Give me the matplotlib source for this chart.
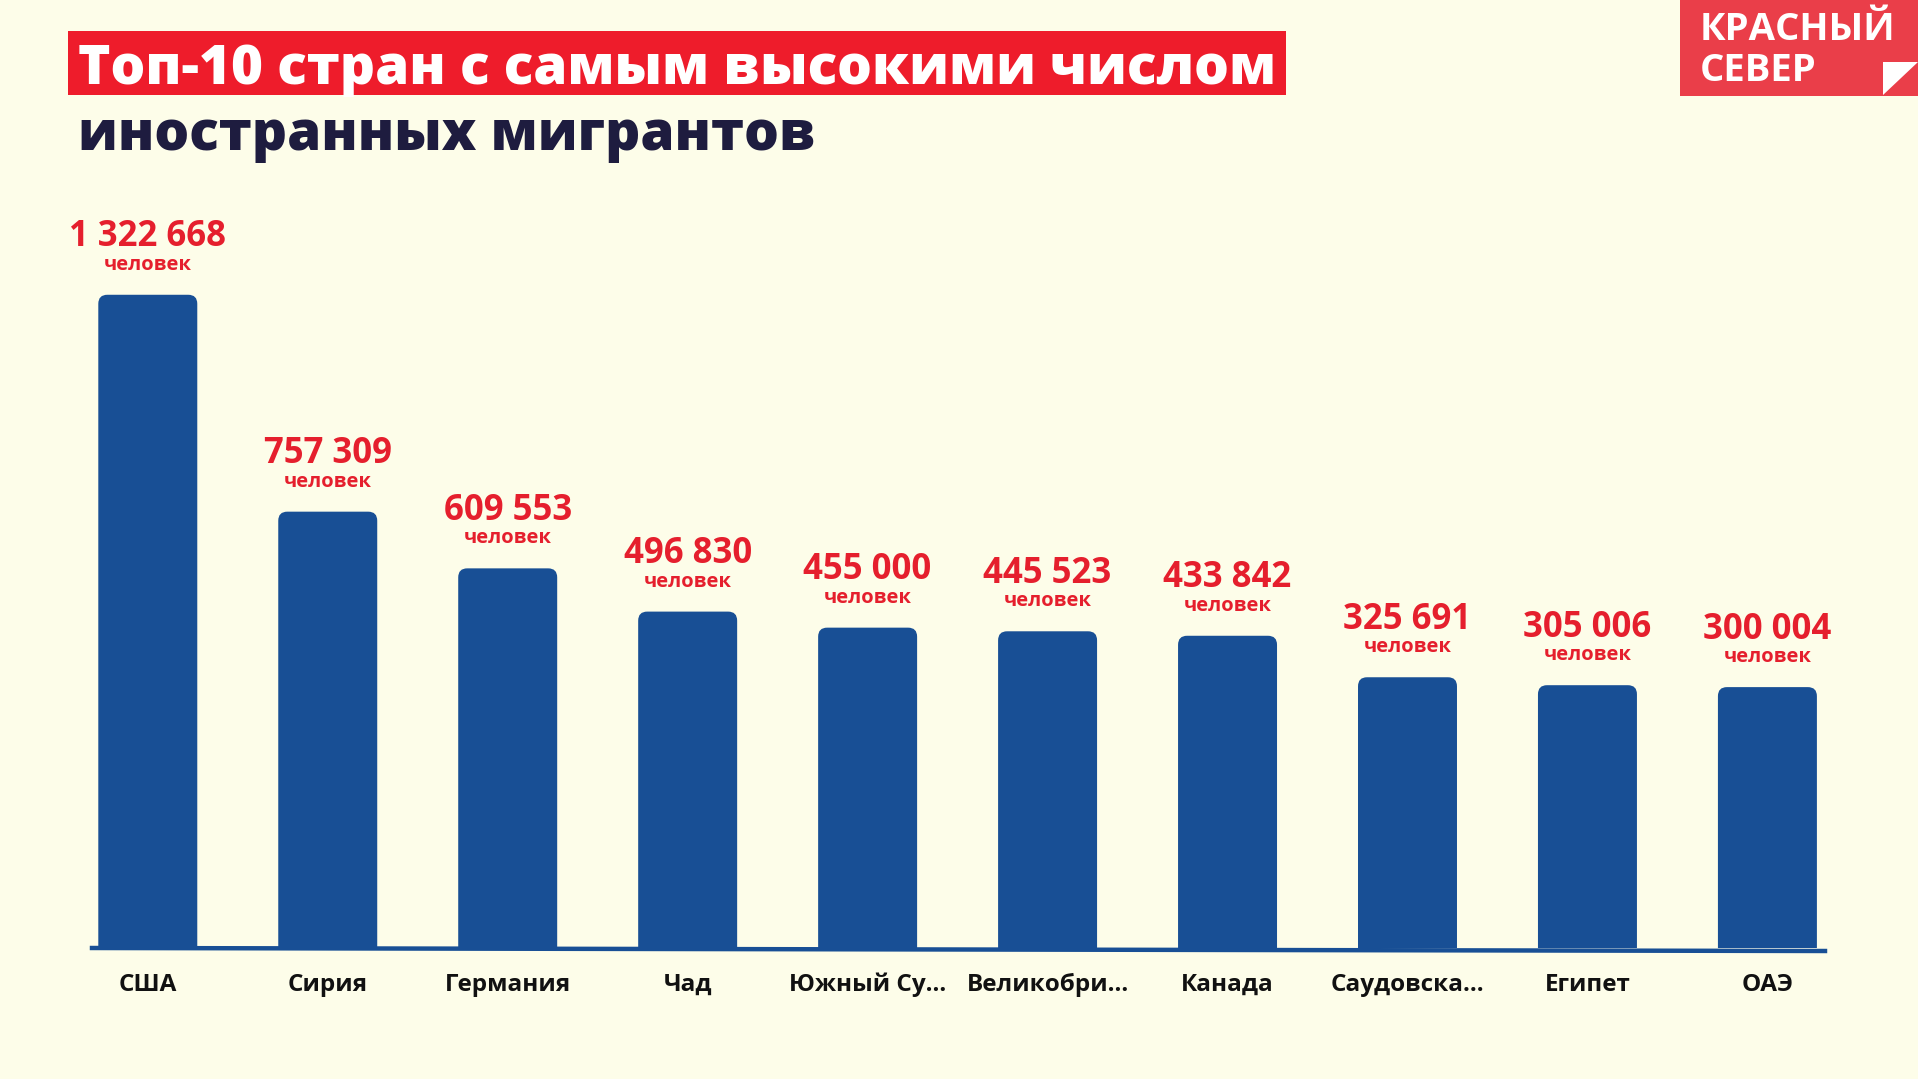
import matplotlib
matplotlib.use("Agg")
import matplotlib.pyplot as plt
from matplotlib.patches import FancyBboxPatch, Rectangle, Polygon
import numpy as np

countries = ["США", "Сирия", "Германия", "Чад", "Южный Су...", "Великобри...",
             "Канада", "Саудовска...", "Египет", "ОАЭ"]
values = [1322668, 757309, 609553, 496830, 455000, 445523, 433842, 325691, 305006, 300004]
value_labels = ["1 322 668", "757 309", "609 553", "496 830", "455 000", "445 523",
                "433 842", "325 691", "305 006", "300 004"]
unit_label = "человек"
title_line1 = "Топ-10 стран с самым высокими числом"
title_line2 = "иностранных мигрантов"
logo_line1 = "КРАСНЫЙ"
logo_line2 = "СЕВЕР"

W, H = 1918, 1079
BG = "#fdfde9"
BAR = "#184f95"
RED = "#e51f2d"
FONT = ["Open Sans", "DejaVu Sans"]

plt.rcParams['font.family'] = FONT

fig = plt.figure(figsize=(W / 100, H / 100), dpi=100, facecolor=BG)


def fx(px):
    return px / W


def fy(py):
    return 1 - py / H


# axes: baseline at y=948 px, x from 92 to 1825 px
ax_left, ax_right, ax_top, ax_bottom = 92, 1825, 150, 948
ax = fig.add_axes([fx(ax_left), fy(ax_bottom), (ax_right - ax_left) / W, (ax_bottom - ax_top) / H])
ax.set_facecolor(BG)
for s in ax.spines.values():
    s.set_visible(False)
ax.set_xticks([])
ax.set_yticks([])

offset = 380000
ymin, ymax = -offset, 1700000
xmin, xmax = -0.31, 9.32
ax.set_xlim(xmin, xmax)
ax.set_ylim(ymin, ymax)

bar_w = 0.55
px_per_y = (ax_bottom - ax_top) / (ymax - ymin)
px_per_x = (ax_right - ax_left) / (xmax - xmin)
radius_px = 9
label_y = -(985 - ax_bottom) / (ax_bottom - ax_top)
for i, v in enumerate(values):
    bottom = ymin - 60000
    h = v - bottom
    p = FancyBboxPatch((i - bar_w / 2, bottom), bar_w, h,
                       boxstyle=f"round,pad=0,rounding_size={radius_px / px_per_x}",
                       mutation_aspect=px_per_x / px_per_y,
                       facecolor=BAR, edgecolor="none", clip_on=True)
    ax.add_patch(p)
    ax.annotate(value_labels[i], (i, v), xytext=(0, 35), textcoords="offset points",
                ha="center", va="baseline", fontsize=25, fontweight="bold", color=RED)
    ax.annotate(unit_label, (i, v), xytext=(0, 18), textcoords="offset points",
                ha="center", va="baseline", fontsize=14.5, fontweight="bold", color=RED)
    ax.text(i, label_y, countries[i], transform=ax.get_xaxis_transform(),
            ha="center", va="center", fontsize=17.5, fontweight="bold", color="#111111",
            clip_on=False)

# baseline line (slightly tilted)
fig.add_artist(plt.Line2D([fx(92), fx(1825)], [fy(948), fy(951)], color=BAR, lw=3.2))

# title box
fig.add_artist(Rectangle((fx(68), fy(95)), fx(1286 - 68), (95 - 31) / H,
                         facecolor="#ee1c2b", edgecolor="none"))
fig.text(fx(78), fy(84), title_line1, ha="left", va="baseline", fontsize=39.5,
         fontweight="heavy", color="white")
fig.text(fx(78), fy(150), title_line2, ha="left", va="baseline", fontsize=39.5,
         fontweight="heavy", color="#1e1c3f")

# logo
fig.add_artist(Rectangle((fx(1680), fy(96)), fx(1918 - 1680), 96 / H,
                         facecolor="#ea3e49", edgecolor="none"))
fig.add_artist(Polygon([[fx(1883), fy(62)], [fx(1918), fy(62)], [fx(1883), fy(95)]],
                       closed=True, facecolor="white", edgecolor="none"))
fig.text(fx(1700), fy(40), logo_line1, ha="left", va="baseline", fontsize=27.5,
         fontweight="bold", color="white")
fig.text(fx(1700), fy(81), logo_line2, ha="left", va="baseline", fontsize=27.5,
         fontweight="bold", color="white")

fig.savefig("out.png", dpi=100, facecolor=BG)
